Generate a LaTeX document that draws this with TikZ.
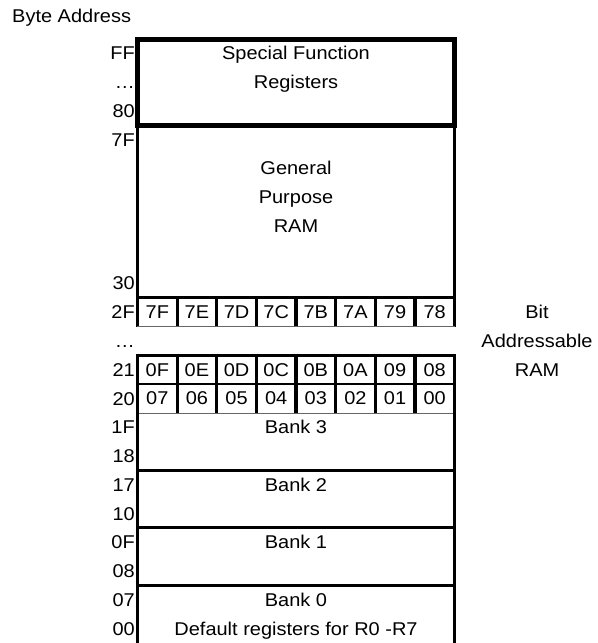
\documentclass[tikz,border=0pt]{standalone}
\usepackage{fontspec}
\setmainfont{Liberation Sans}[FakeStretch=1.08]
\usetikzlibrary{positioning}

\begin{document}
\begin{tikzpicture}[
    x=1pt, y=-28.76pt,
    every node/.style={font=\fontsize{18.5}{22}\selectfont, inner sep=0pt},
    addr/.style={anchor=base east, yshift=-6.5pt},
    label/.style={anchor=base, yshift=-6.5pt},
    frame/.style={line width=3pt},
    sfrframe/.style={line width=5pt},
    cellline/.style={line width=2.8pt},
    thinline/.style={line width=0.8pt, black!60},
    bitcell/.style={minimum width=39.625pt, minimum height=28.76pt}
]
    \useasboundingbox (0,-1.356) rectangle (597,21);

    % Title
    \node[anchor=west] (title) at (12,-0.73) {Byte Address};

    % General purpose RAM and SFR
    \draw[frame] (137.5,3) rectangle (454.5,9);
    \draw[sfrframe] (137.5,0) rectangle (454.5,3);
    \node[label] (sfr1) at (296,0.5) {Special Function};
    \node[label] (sfr2) at (296,1.5) {Registers};
    \node[label] (gp1) at (296,4.5) {General};
    \node[label] (gp2) at (296,5.5) {Purpose};
    \node[label] (gp3) at (296,6.5) {RAM};

    % Bit addressable rows
    \foreach \r/\bits in {9/{7F,7E,7D,7C,7B,7A,79,78},11/{0F,0E,0D,0C,0B,0A,09,08},12/{07,06,05,04,03,02,01,00}} {
        \foreach \t [count=\i] in \bits {
            \node[bitcell] (bit\r-\i) at ({137.5+39.625*(\i-0.5)},\r+0.5) {\t};
            \draw[cellline] (bit\r-\i.south west) |- (bit\r-\i.north east) -- (bit\r-\i.south east);
        }
    }
    \draw[thinline] (bit9-1.south west) -- (bit9-8.south east);
    \draw[thinline] (bit12-1.south west) -- (bit12-8.south east);

    \node[label] (bar1) at (537,9.5) {Bit};
    \node[label] (bar2) at (537,10.5) {Addressable};
    \node[label] (bar3) at (537,11.5) {RAM};

    % Register banks
    \draw[frame] (137.5,13) -- (137.5,21.2);
    \draw[frame] (454.5,13) -- (454.5,21.2);
    \foreach \r in {15,17,19}
        \draw[frame] (137.5,\r) -- (454.5,\r);
    \foreach \b/\r in {3/13,2/15,1/17,0/19}
        \node[label] (bank\b) at (296,\r+0.5) {Bank \b};
    \node[label] (bank0sub) at (296,20.5) {Default registers for R0 -R7};

    % Byte addresses
    \foreach \r/\t [count=\i] in {0/FF,1/\dots,2/80,3/7F,8/30,9/2F,10/\dots,11/21,12/20,13/1F,14/18,15/17,16/10,17/0F,18/08,19/07,20/00}
        \node[addr] (addr\i) at (135,\r+0.5) {\t};
\end{tikzpicture}
\end{document}
